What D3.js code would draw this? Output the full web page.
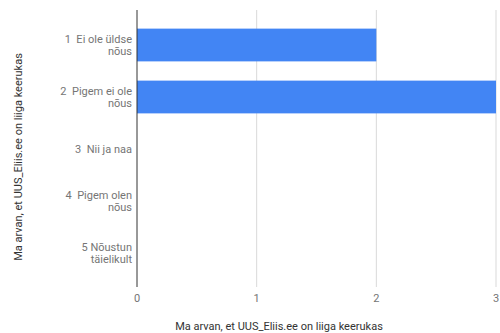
<!DOCTYPE html>
<html>

<head>
  <meta charset="utf-8">
  <title>Ma arvan, et UUS_Eliis.ee on liiga keerukas</title>
  <style>
    body {
      margin: 0;
      background: #fff;
    }

    text {
      font-family: Roboto, "Noto Sans", sans-serif;
    }
  </style>
</head>

<body>
  <svg width="500" height="333"></svg>

  <script src="https://cdn.jsdelivr.net/npm/d3@7"></script>
  <script>
    // Andmed
    var categories = ["1  Ei ole üldse|nõus", "2  Pigem ei ole|nõus", "3  Nii ja naa", "4  Pigem olen|nõus", "5 Nõustun|täielikult"];
    var counts = [2, 3, 0, 0, 0];
    var xTicks = [0, 1, 2, 3];
    var xTitle = "Ma arvan, et UUS_Eliis.ee on liiga keerukas";
    var yTitle = "Ma arvan, et UUS_Eliis.ee on liiga keerukas";

    var plotTop = 10, plotBottom = 287, plotLeft = 137, plotRight = 496;
    var lineH = 12;

    var svg = d3.select("svg");

    var x = d3.scaleLinear().domain([0, 3]).range([plotLeft, plotRight]);
    var y = d3.scaleBand().domain(categories).range([19, 279]).paddingInner(0.37).paddingOuter(0.185);

    // ruudustik
    svg.selectAll(".grid")
      .data(xTicks.filter(function (d) { return d > 0; }))
      .enter().append("line")
      .attr("class", "grid")
      .attr("x1", function (d) { return x(d); })
      .attr("x2", function (d) { return x(d); })
      .attr("y1", plotTop)
      .attr("y2", plotBottom)
      .attr("stroke", "#d9d9d9")
      .attr("stroke-width", 1);

    // tulbad
    svg.selectAll(".bar")
      .data(counts)
      .enter().append("rect")
      .attr("class", "bar")
      .attr("x", x(0))
      .attr("y", function (d, i) { return y(categories[i]); })
      .attr("width", function (d) { return x(d) - x(0); })
      .attr("height", y.bandwidth())
      .attr("fill", "#4285f4");

    // nulltelg
    svg.append("line")
      .attr("x1", x(0)).attr("x2", x(0))
      .attr("y1", plotTop).attr("y2", plotBottom)
      .attr("stroke", "#333").attr("stroke-width", 1);

    // x-telje sildid
    svg.selectAll(".xlab")
      .data(xTicks)
      .enter().append("text")
      .attr("class", "xlab")
      .attr("x", function (d) { return x(d); })
      .attr("y", 302)
      .attr("text-anchor", "middle")
      .attr("font-size", 11)
      .attr("fill", "#757575")
      .text(function (d) { return d; });

    // kategooriad, iga rida eraldi tekstina
    categories.forEach(function (d) {
      var lines = d.split("|");
      var cy = y(d) + y.bandwidth() / 2 - (lines.length - 1) * lineH / 2 + 4;
      svg.selectAll(null)
        .data(lines)
        .enter().append("text")
        .attr("class", "ylab")
        .attr("x", 132)
        .attr("y", function (t, i) { return cy + i * lineH; })
        .attr("text-anchor", "end")
        .attr("font-size", 11)
        .attr("fill", "#757575")
        .attr("xml:space", "preserve")
        .text(function (t) { return t; });
    });

    // telgede pealkirjad
    svg.append("text")
      .attr("x", 279)
      .attr("y", 330)
      .attr("text-anchor", "middle")
      .attr("font-size", 11)
      .attr("fill", "#333")
      .text(xTitle);

    svg.append("text")
      .attr("transform", "translate(22,157) rotate(-90)")
      .attr("text-anchor", "middle")
      .attr("font-size", 11)
      .attr("fill", "#333")
      .text(yTitle);
  </script>
</body>

</html>
